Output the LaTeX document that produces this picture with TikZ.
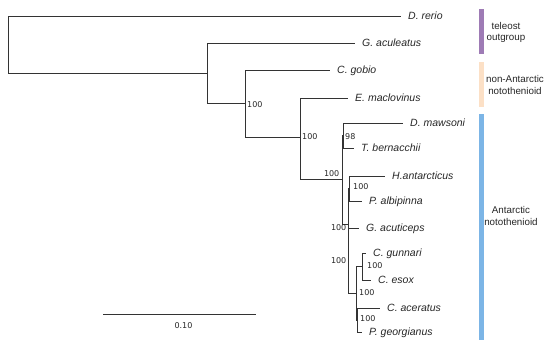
\documentclass[tikz,border=0pt]{standalone}
\usepackage{fontspec}
\setmainfont{Liberation Sans}
\newfontfamily\numfont{DejaVu Sans}
\definecolor{purp}{HTML}{9E7BB5}
\definecolor{peach}{HTML}{FCE0C6}
\definecolor{skyb}{HTML}{7CB5E6}
\begin{document}
\begin{tikzpicture}[x=1pt,y=-1pt,
  branch/.style={draw=black!80, line width=0.95pt},
  leaf/.style={anchor=west, inner xsep=7pt, inner ysep=0pt, font=\fontsize{10.5}{12}\selectfont\itshape, text height=7.5pt, text depth=0pt, text=black!85},
  boot/.style={inner sep=0pt, font=\numfont\fontsize{8}{9}\selectfont, text height=5.8pt, text depth=0pt, text=black!85},
  grp/.style={align=center, font=\fontsize{9.8}{11.5}\selectfont, inner sep=0pt, text=black!85},
  bar/.style={line width=5pt}]
\useasboundingbox (0,0) rectangle (550,349);
% internal nodes
\coordinate (r) at (8,44.5);
\coordinate (n1) at (207,73);
\coordinate (n2) at (245,103.5);
\coordinate (n3) at (300,137.5);
\coordinate (n4) at (342,179.5);
\coordinate (n98) at (343,135.5);
\coordinate (nb) at (348,224);
\coordinate (nhp) at (349.5,188.5);
\coordinate (nf) at (348.8,260);
\coordinate (ne) at (356.5,293);
\coordinate (ngc) at (362,266.5);
\coordinate (nap) at (357.6,320);
% leaves
\node[leaf] (dr) at (401,16) {D. rerio};
\node[leaf] (ga) at (355,43) {G. aculeatus};
\node[leaf] (cg) at (330,70) {C. gobio};
\node[leaf] (em) at (348,98) {E. maclovinus};
\node[leaf] (dm) at (403,123) {D. mawsoni};
\node[leaf] (tb) at (354,148) {T. bernacchii};
\node[leaf] (ha) at (385,176) {H.antarcticus};
\node[leaf] (pa) at (362,201) {P. albipinna};
\node[leaf] (gac) at (359,228) {G. acuticeps};
\node[leaf] (cgu) at (366,253) {C. gunnari};
\node[leaf] (ce) at (371,280) {C. esox};
\node[leaf] (ca) at (380,308) {C. aceratus};
\node[leaf] (pg) at (362,332) {P. georgianus};
% branches
\foreach \a/\b in {r/dr.west, r/n1, n1/ga.west, n1/n2, n2/cg.west, n2/n3,
  n3/em.west, n3/n4, n4/n98, n4/nb, n98/dm.west, n98/tb.west, nb/nhp, nb/nf,
  nhp/ha.west, nhp/pa.west, nf/gac.west, nf/ne, ne/ngc, ne/nap,
  ngc/cgu.west, ngc/ce.west, nap/ca.west, nap/pg.west}
  \draw[branch] (\a) |- (\b);
% support values
\node[boot, anchor=west] (b2) at (247,104.5) {100};
\node[boot, anchor=west] (b3) at (302,137) {100};
\node[boot, anchor=east] (b4) at (339.5,174) {100};
\node[boot, anchor=west] (b98) at (345,136.5) {98};
\node[boot, anchor=west] (bhp) at (353,187) {100};
\node[boot, anchor=east] (bb) at (346.5,228) {100};
\node[boot, anchor=east] (bf) at (346.5,261) {100};
\node[boot, anchor=west] (bgc) at (367,266) {100};
\node[boot, anchor=west] (be) at (359,293) {100};
\node[boot, anchor=west] (bap) at (360,319) {100};
% scale bar
\coordinate (s1) at (103,314);
\coordinate (s2) at (256,314);
\draw[branch] (s1) -- (s2);
\node[boot] (sl) at (183.5,325.5) {0.10};
% group bars
\draw[bar, purp] (481.5,9) -- (481.5,54);
\draw[bar, peach] (481.5,62) -- (481.5,107);
\draw[bar, skyb] (481.5,114) -- (481.5,340);
\node[grp] (g1) at (506,32.5) {teleost\\outgroup};
\node[grp] (g2) at (515,85) {non-Antarctic\\notothenioid};
\node[grp] (g3) at (511,216) {Antarctic\\notothenioid};
\end{tikzpicture}
\end{document}
